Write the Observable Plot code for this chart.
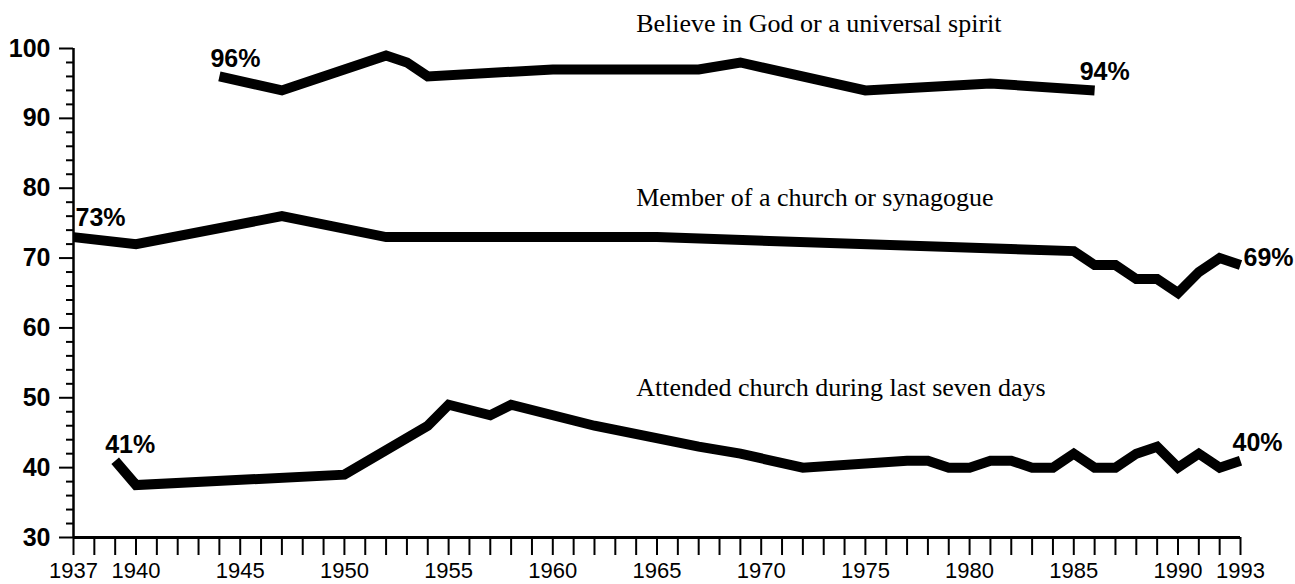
<!DOCTYPE html>
<html><head><meta charset="utf-8">
<script src="https://cdn.jsdelivr.net/npm/d3@7"></script>
<script src="https://cdn.jsdelivr.net/npm/@observablehq/plot@0.6"></script>
<style>
body{margin:0;background:#fff;}
#chart svg{display:block;}
</style></head><body><div id="chart"></div>
<script>
// ---- data ----
const believeYears  = [1944,1947,1952,1953,1954,1960,1967,1969,1975,1981,1986];
const believeValues = [96,94,99,98,96,97,97,98,94,95,94];
const memberYears   = [1937,1940,1947,1952,1965,1985,1986,1987,1988,1989,1990,1991,1992,1993];
const memberValues  = [73,72,76,73,73,71,69,69,67,67,65,68,70,69];
const attendYears   = [1939,1940,1950,1954,1955,1957,1958,1962,1967,1969,1972,1977,1978,1979,1980,1981,1982,1983,1984,1985,1986,1987,1988,1989,1990,1991,1992,1993];
const attendValues  = [41,37.5,39,46,49,47.5,49,46,43,42,40,41,41,40,40,41,41,40,40,42,40,40,42,43,40,42,40,41];
const seriesNames = ["Believe in God or a universal spirit","Member of a church or synagogue","Attended church during last seven days"];
const startLabels = ["96%","73%","41%"];
const endLabels   = ["94%","69%","40%"];
const titleYears  = [1964,1964,1964];
const titleValues = [102.4,77.5,50.2];
const xTickYears  = d3.range(1937,1994);
const xLabelYears = [1937,1940,1945,1950,1955,1960,1965,1970,1975,1980,1985,1990,1993];
const yMajorTicks = [30,40,50,60,70,80,90,100];
const yMinorTicks = d3.range(30,101,2).filter(v => v % 10 !== 0);

// ---- tables ----
const seriesYears = [believeYears, memberYears, attendYears];
const seriesValues = [believeValues, memberValues, attendValues];
const rows = [];
seriesNames.forEach((name, i) => seriesYears[i].forEach((yr, j) => rows.push({series: name, year: yr, value: seriesValues[i][j]})));
const firstPt = i => ({year: seriesYears[i][0], value: seriesValues[i][0], text: startLabels[i]});
const lastPt = i => ({year: seriesYears[i].at(-1), value: seriesValues[i].at(-1), text: endLabels[i]});
const titles = seriesNames.map((t, i) => ({text: t, year: titleYears[i], value: titleValues[i]}));

const sans = "'Liberation Sans', Arial, Helvetica, sans-serif";
const serif = "'Liberation Serif', 'Times New Roman', serif";
const labelOpts = {x: "year", y: "value", text: "text", textAnchor: "start", lineAnchor: "bottom", fontSize: 25, fontWeight: "bold", fontFamily: sans};
const label = (d, dx, dy) => Plot.text([d], {...labelOpts, dx, dy});

const xMin = xTickYears[0], xMax = xTickYears.at(-1);
const yMin = yMajorTicks[0], yMax = yMajorTicks.at(-1);

const chart = Plot.plot({
  width: 1295, height: 584,
  marginTop: 48, marginBottom: 47, marginLeft: 73, marginRight: 55,
  style: {fontFamily: sans, background: "#fff", color: "#000"},
  x: {domain: [xMin, xMax], label: null},
  y: {domain: [yMin, yMax], label: null},
  marks: [
    Plot.axisX({ticks: xTickYears, tickSize: 18, tickPadding: 7, strokeWidth: 2, label: null,
      tickFormat: d => xLabelYears.includes(d) ? String(d) : "", fontSize: 22, fontFamily: sans}),
    Plot.axisY({ticks: yMajorTicks, tickSize: 14, tickPadding: 9, strokeWidth: 2, label: null,
      tickFormat: d => String(d), fontSize: 25, fontWeight: "bold", fontFamily: sans}),
    Plot.axisY({ticks: yMinorTicks, tickSize: 7, strokeWidth: 2, label: null, tickFormat: () => ""}),
    Plot.ruleX([xMin], {y1: yMin, y2: yMax, strokeWidth: 2.5}),
    Plot.ruleY([yMin], {x1: xMin, x2: xMax, strokeWidth: 3}),
    Plot.lineY(rows, {x: "year", y: "value", z: "series", stroke: "#000", strokeWidth: 10,
      strokeLinejoin: "miter", strokeLinecap: "butt", strokeMiterlimit: 4}),
    Plot.text(titles, {x: "year", y: "value", text: "text", textAnchor: "start", lineAnchor: "bottom",
      fontFamily: serif, fontSize: 26}),
    label(firstPt(0), -9, -9),
    label(lastPt(0), -15, -10),
    label(firstPt(1), 2, -11),
    label(lastPt(1), 3, 1),
    label(firstPt(2), -10, -8),
    label(lastPt(2), -8, -10)
  ]
});
document.getElementById("chart").appendChild(chart);
</script>
</body></html>
